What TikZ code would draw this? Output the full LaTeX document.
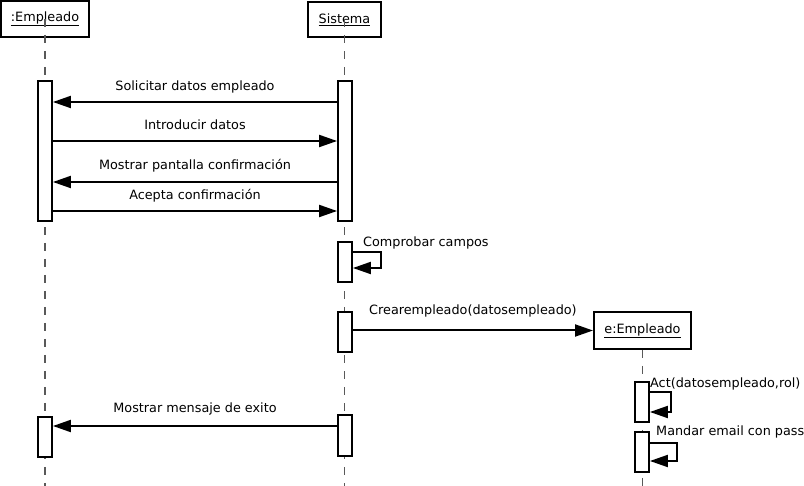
\documentclass[tikz,border=0pt]{standalone}
\usepackage{fontspec}
\setmainfont{DejaVu Sans}
\usetikzlibrary{positioning}
\usetikzlibrary{arrows.meta}

\begin{document}
\begin{tikzpicture}[x=1pt,y=-1pt,
    every node/.style={font=\fontsize{12.8}{15}\selectfont},
    objeto/.style={draw,line width=2pt,inner sep=0pt},
    activacion/.style={draw,fill=white,line width=1.8pt,minimum width=14pt,inner sep=0pt},
    vida/.style={draw=black!65,line width=1.4pt,dash pattern=on 8pt off 8pt},
    mensaje/.style={line width=2pt,-{Triangle[length=18pt,width=12pt]}},
    etiqueta/.style={inner sep=0pt,text depth=0pt,anchor=base}]
\useasboundingbox (0,0) rectangle (804,486);

% objetos
\node[objeto,minimum width=88pt,minimum height=36pt] (empleado) at (45,19) {\underline{:Empleado}};
\node[objeto,minimum width=73pt,minimum height=35pt] (sistema) at (344.5,19.5) {\underline{Sistema}};
\node[objeto,minimum width=97pt,minimum height=37pt] (nuevo) at (642.5,330.5) {\underline{e:Empleado}};
\coordinate (fin) at (0,486);

% lineas de vida
\path[vida] (empleado.center) -- (empleado.center |- fin);
\path[vida] (sistema.center) -- (sistema.center |- fin);
\path[vida] (nuevo.south) -- (nuevo.south |- fin);

% activaciones
\begin{scope}[every node/.append style={activacion}]
    \node[minimum height=140pt] (eb1) at (45,151) {};
    \node[minimum height=140pt] (sb1) at (345,151) {};
    \node[minimum height=40pt] (sb2) at (345,262) {};
    \node[minimum height=40pt] (sb3) at (345,332) {};
    \node[minimum height=41pt] (sb4) at (345,435.5) {};
    \node[minimum height=40pt] (eb2) at (45,437) {};
    \node[minimum height=40pt] (nb1) at (642,402) {};
    \node[minimum height=40pt] (nb2) at (642,452) {};
\end{scope}

% filas de mensajes
\coordinate (m1) at (0,102);
\coordinate (m2) at (0,141);
\coordinate (m3) at (0,182);
\coordinate (m4) at (0,211);
\coordinate (m5) at (0,330.5);
\coordinate (m6) at (0,426);

\path[mensaje] (sb1.west |- m1) edge node[etiqueta,above=10pt] {Solicitar datos empleado} (eb1.east |- m1);
\path[mensaje] (eb1.east |- m2) edge node[etiqueta,above=10pt] {Introducir datos} (sb1.west |- m2);
\path[mensaje] (sb1.west |- m3) edge node[etiqueta,above=11pt] {Mostrar pantalla confirmación} (eb1.east |- m3);
\path[mensaje] (eb1.east |- m4) edge node[etiqueta,above=10pt] {Acepta confirmación} (sb1.west |- m4);
\path[mensaje] (sb3.east |- m5) edge node[etiqueta,above=15pt] {Crearempleado(datosempleado)} (nuevo.west);
\path[mensaje] (sb4.west |- m6) edge node[etiqueta,above=12pt] {Mostrar mensaje de exito} (eb2.east |- m6);

% mensajes a si mismo
\coordinate (c1) at (381,252);
\coordinate (c2) at (381,268);
\coordinate (a1) at (671,392);
\coordinate (a2) at (671,412);
\coordinate (e1) at (677,443);
\coordinate (e2) at (677,461);
\draw[mensaje] (sb2.east |- c1) -- (c1) -- (c2) -- (sb2.east |- c2);
\draw[mensaje] (nb1.east |- a1) -- (a1) -- (a2) -- (nb1.east |- a2);
\draw[mensaje] (nb2.east |- e1) -- (e1) -- (e2) -- (nb2.east |- e2);
\node[etiqueta,anchor=base west] (comprobar) at (363,247) {Comprobar campos};
\node[etiqueta,anchor=base west] (act) at (650,388) {Act(datosempleado,rol)};
\node[etiqueta,anchor=base west] (mandar) at (656,436) {Mandar email con pass};
\end{tikzpicture}
\end{document}
